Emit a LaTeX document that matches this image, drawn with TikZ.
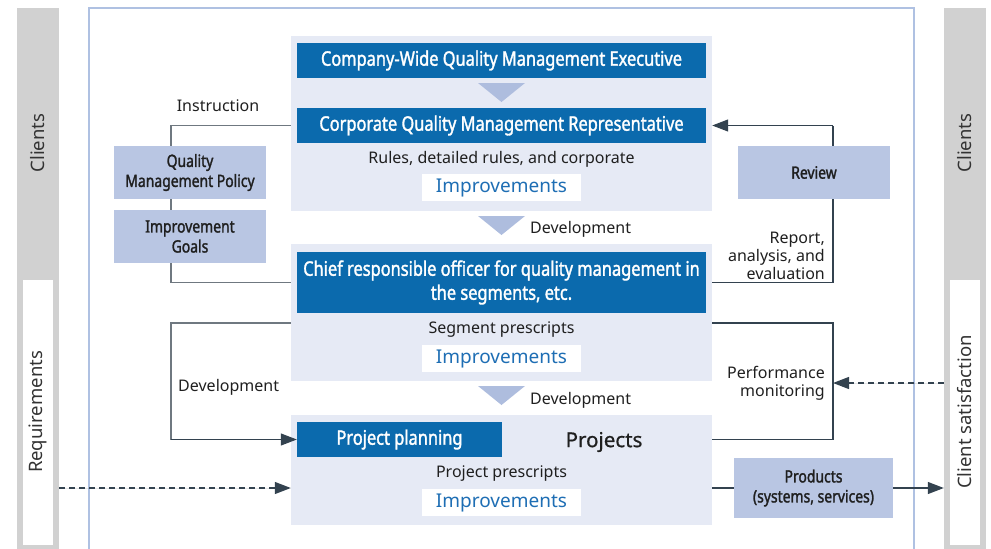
\documentclass[tikz,border=0pt]{standalone}
\usepackage{fontspec}
\setmainfont{Noto Sans}
\newfontfamily\condfont{Noto Sans}[FakeStretch=0.82, FakeBold=1.6]
\newfontfamily\medfont{Noto Sans}[FakeBold=0.8]
\usetikzlibrary{arrows.meta,positioning}
\definecolor{barblue}{HTML}{0B6AAD}
\definecolor{panelbg}{HTML}{E6EAF5}
\definecolor{tribg}{HTML}{AEBDDE}
\definecolor{sidebox}{HTML}{B9C6E3}
\definecolor{graybar}{HTML}{D1D1D1}
\definecolor{framecol}{HTML}{AFC1E2}
\definecolor{linegray}{HTML}{6F7880}
\definecolor{linedark}{HTML}{33424F}
\definecolor{impblue}{HTML}{1E6EB4}

\begin{document}
\begin{tikzpicture}[x=1pt, y=-1pt, font=\fontsize{16}{18}\selectfont, text=black!88,
  panel/.style={fill=panelbg, minimum width=421pt, inner sep=0pt},
  titlebar/.style={fill=barblue, text=white, font=\condfont\fontsize{20}{24}\selectfont, minimum width=409pt, minimum height=35pt, inner sep=0pt, align=center},
  impbox/.style={fill=white, text=impblue, font=\fontsize{19}{22}\selectfont, minimum width=159pt, minimum height=27pt, inner sep=0pt},
  sbox/.style={fill=sidebox, font=\condfont\fontsize{17}{20}\selectfont, minimum width=152pt, minimum height=53pt, inner sep=0pt, align=center},
  sidebar/.style={fill=graybar, minimum width=42pt, minimum height=541pt, inner sep=0pt},
  sidein/.style={fill=white, minimum width=30pt, minimum height=265pt, inner sep=0pt},
  sidetext/.style={rotate=90, font=\fontsize{18.5}{20}\selectfont, text=black!80},
  conn/.style={draw=linegray, line width=1.2pt},
  conndark/.style={draw=linedark, line width=1.2pt},
  arr/.style={-{Triangle[length=16pt,width=12pt]}, draw=linedark, fill=linedark, line width=1.2pt},
  dash6/.style={dash pattern=on 6pt off 4pt},
  lbl/.style={inner sep=0pt, align=right}]
\useasboundingbox (0,0) rectangle (991,549);

% side columns
\node[sidebar] (lbar) at (38,278.5) {};
\node[sidein] (lbarin) at (38,412.5) {};
\node[sidetext] (lcl) at (38,143) {Clients};
\node[sidetext] (lreq) at (38,412) {Requirements};
\node[sidebar] (rbar) at (965,278.5) {};
\node[sidein] (rbarin) at (965,412.5) {};
\node[sidetext] (rcl) at (965,143) {Clients};
\node[sidetext] (rsat) at (965,412) {Client satisfaction};

% frame
\draw[framecol, line width=1.5pt] (89,549) |- (914,8) -- (914,549);

% corporate level
\node[panel, minimum height=175pt] (p1) at (501.5,123.5) {};
\node[titlebar] (exec) at (501.5,60.5) {Company-Wide Quality Management Executive};
\node[titlebar] (rep) at (501.5,125.5) {Corporate Quality Management Representative};
\node (rules) at (501.5,159) {Rules, detailed rules, and corporate};
\node[impbox] (imp1) at (501.5,187.5) {Improvements};

% segment level
\node[panel, minimum height=137pt] (p2) at (501.5,312.5) {};
\node[titlebar, minimum height=61pt] (chief) at (501.5,282.5) {Chief responsible officer for quality management in\\the segments, etc.};
\node (seg) at (501.5,330) {Segment prescripts};
\node[impbox] (imp2) at (501.5,358.5) {Improvements};

% project level
\node[panel, minimum height=110pt] (p3) at (501.5,470) {};
\node[titlebar, minimum width=205pt] (plan) at (399.5,439.5) {Project planning};
\node[font=\medfont\fontsize{20.5}{22}\selectfont] (proj) at (604,442) {Projects};
\node (projpre) at (501.5,474) {Project prescripts};
\node[impbox] (imp3) at (501.5,502.5) {Improvements};

% down triangles
\foreach \t in {83,216,386}
  \fill[tribg] (478,\t) -- (525,\t) -- (501.5,\t+19) -- cycle;
\node[lbl, anchor=west] (dev1) at (530,229) {Development};
\node[lbl, anchor=west] (dev2) at (530,400) {Development};

% loops
\coordinate (lx) at (171,0);
\coordinate (rx) at (833,0);
\coordinate (segy) at (0,323);
\draw[conn] (p1.west |- rep) -| (lx |- chief) -- (p2.west |- chief);
\draw[conndark] (p2.east |- chief) -| (rx |- rep);
\draw[arr] (rx |- rep) -- (p1.east |- rep);
\draw[conn] (p2.west |- segy) -| (lx |- plan);
\draw[arr] (lx |- plan) -- (plan.west);
\draw[conndark] (p2.east |- segy) -| (rx |- plan) -- (p3.east |- plan);

\node[lbl] (instr) at (218,106) {Instruction};
\node[lbl, anchor=west] (dev3) at (178,387) {Development};
\node[lbl, anchor=east, fill=white, inner sep=1pt] (report) at (826,256) {Report,\\analysis, and\\evaluation};
\node[lbl, anchor=east, fill=white, inner sep=1pt] (perf) at (826,383) {Performance\\monitoring};

% side boxes
\node[sbox] (policy) at (190,172.5) {Quality\\Management Policy};
\node[sbox] (goals) at (190,236.5) {Improvement\\Goals};
\node[sbox] (review) at (814,172.5) {Review};
\node[sbox, minimum width=159pt, minimum height=60pt] (prod) at (813.5,488) {Products\\(systems, services)};

% client flows
\draw[arr, dash6] (rbar.west |- perf) -- (rx |- perf);
\draw[arr, dash6] (lbar.east |- prod) -- (p3.west |- prod);
\draw[conndark] (p3.east |- prod) -- (prod.west);
\draw[arr] (prod.east) -- (rbar.west |- prod);
\end{tikzpicture}
\end{document}
